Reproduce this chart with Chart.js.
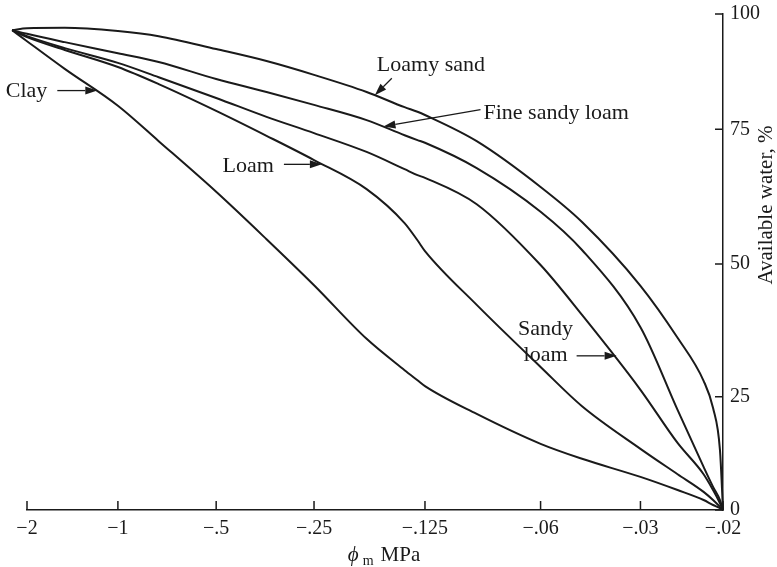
<!DOCTYPE html>
<html>
<head>
<meta charset="utf-8">
<script src="https://cdn.jsdelivr.net/npm/chart.js@4.4.0/dist/chart.umd.min.js"></script>
<style>
  body { margin: 0; background: #fff; }
</style>
</head>
<body>
<canvas id="waterChart" width="777" height="567"></canvas>
<script>
// Matric potential (MPa) where the curves were read
const potential = [-2.24, -2, -1.5, -1, -0.75, -0.5, -0.35, -0.25, -0.18, -0.142, -0.131, -0.125, -0.09, -0.06, -0.045, -0.03, -0.025, -0.022, -0.021, -0.0203, -0.02];

// Available water (%) for each soil
const loamySand = [96.5, 96.9, 97.0, 96.3, 95.2, 92.4, 89.8, 86.8, 83.1, 79.8, 78.8, 78.1, 72.8, 64.3, 57.8, 45.9, 36.1, 28.0, 22.5, 13.2, 0];
const fineSandyLoam = [96.5, 95.7, 93.9, 91.5, 89.6, 85.9, 83.1, 80.3, 77.0, 73.9, 73.0, 72.5, 67.8, 59.7, 52.6, 38.1, 22.1, 9.5, 5.1, 2.2, 0];
const sandyLoam = [96.5, 95.2, 92.6, 89.4, 86.3, 81.8, 77.7, 74.3, 70.8, 67.6, 66.5, 66.0, 61.1, 49.8, 40.4, 26.3, 14.8, 7.9, 4.4, 1.5, 0];
const loam = [96.5, 95.0, 92.2, 88.5, 84.8, 79.0, 73.8, 69.3, 63.9, 57.6, 54.4, 52.4, 42.3, 30.6, 22.9, 13.5, 7.9, 4.0, 2.2, 0.7, 0];
const clay = [96.5, 94.1, 88.1, 80.1, 72.8, 63.4, 54.6, 46.0, 35.9, 30.0, 28.1, 27.0, 21.2, 14.6, 11.3, 7.3, 4.4, 2.2, 1.1, 0.4, 0];

// Axis ticks
const xTickValues = [-2, -1, -0.5, -0.25, -0.125, -0.06, -0.03, -0.02];
const xTickLabels = ["\u22122", "\u22121", "\u2212.5", "\u2212.25", "\u2212.125", "\u2212.06", "\u2212.03", "\u2212.02"];
const yTickValues = [0, 25, 50, 75, 100];
const yTickLabels = ["0", "25", "50", "75", "100"];

// The printed axes are hand spaced, so each tick sits at its own
// fraction of the axis length; values between ticks are interpolated
const xTickSpacing = [0, 0.1306, 0.2718, 0.4124, 0.5718, 0.7379, 0.8814, 1];
const yTickSpacing = [0, 0.2284, 0.496, 0.7675, 1];

const ink = "#1a1a1a";
const serif = '"Liberation Serif", "DejaVu Serif", serif';

const knots = {
  x: { values: xTickValues, pos: xTickSpacing, unit: (v) => -Math.log(-v) },
  y: { values: yTickValues, pos: yTickSpacing, unit: (v) => v },
};

class KnotScale extends Chart.LinearScale {
  static id = "knot";
  static defaults = {};

  getPixelForValue(value) {
    if (value === null || value === undefined || isNaN(value)) return NaN;
    const k = knots[this.id];
    const u = k.unit(value);
    let i = 0;
    while (i < k.values.length - 2 && u > k.unit(k.values[i + 1])) i++;
    const u0 = k.unit(k.values[i]);
    const u1 = k.unit(k.values[i + 1]);
    const dec = k.pos[i] + ((u - u0) / (u1 - u0)) * (k.pos[i + 1] - k.pos[i]);
    return this.getPixelForDecimal(dec);
  }
}
Chart.register(KnotScale);

// Labels with arrows: tip in data units, tail and text offset in px from tip
const notes = [
  { lines: ["Clay"], tip: [-1.17, 83.4], tail: [-40, 0], text: [-50, 6], align: "right" },
  { lines: ["Loamy sand"], tip: [-0.171, 82.4], tail: [17, -17], text: [2, -24], align: "left" },
  { lines: ["Fine sandy loam"], tip: [-0.162, 75.6], tail: [97, -17], text: [100, -8], align: "left" },
  { lines: ["Loam"], tip: [-0.238, 68.5], tail: [-38, 0], text: [-48, 8], align: "right" },
  { lines: ["Sandy", "loam"], tip: [-0.0354, 32.7], tail: [-40, 0], text: [-71, -21], align: "center" },
];

function drawArrow(ctx, x0, y0, x1, y1) {
  const ang = Math.atan2(y1 - y0, x1 - x0);
  const len = 12, half = 4;
  const bx = x1 - len * Math.cos(ang), by = y1 - len * Math.sin(ang);
  ctx.beginPath();
  ctx.moveTo(x0, y0);
  ctx.lineTo(bx, by);
  ctx.stroke();
  ctx.beginPath();
  ctx.moveTo(x1, y1);
  ctx.lineTo(bx + half * Math.sin(ang), by - half * Math.cos(ang));
  ctx.lineTo(bx - half * Math.sin(ang), by + half * Math.cos(ang));
  ctx.closePath();
  ctx.fill();
}

const decor = {
  id: "decor",
  afterDraw(chart) {
    const { ctx, chartArea } = chart;
    const { x, y } = chart.scales;
    ctx.save();
    ctx.strokeStyle = ink;
    ctx.fillStyle = ink;
    ctx.lineWidth = 1.5;

    // inward tick marks
    ctx.beginPath();
    xTickValues.forEach((v) => {
      const px = x.getPixelForValue(v);
      ctx.moveTo(px, chartArea.bottom);
      ctx.lineTo(px, chartArea.bottom - 9);
    });
    yTickValues.forEach((v) => {
      const py = y.getPixelForValue(v);
      ctx.moveTo(chartArea.right, py);
      ctx.lineTo(chartArea.right - 8, py);
    });
    ctx.stroke();

    // curve labels
    ctx.lineWidth = 1.3;
    ctx.font = "22px " + serif;
    ctx.textBaseline = "alphabetic";
    notes.forEach((n) => {
      const tx = x.getPixelForValue(n.tip[0]);
      const ty = y.getPixelForValue(n.tip[1]);
      drawArrow(ctx, tx + n.tail[0], ty + n.tail[1], tx, ty);
      ctx.textAlign = n.align;
      n.lines.forEach((line, i) => {
        ctx.fillText(line, tx + n.text[0], ty + n.text[1] + i * 26);
      });
    });

    // x axis title: phi with subscript m
    const cx = (chartArea.left + chartArea.right) / 2 + 9;
    const base = chartArea.bottom + 51;
    ctx.textAlign = "left";
    ctx.font = "italic 21px " + serif;
    const phi = "\u03d5";
    const wPhi = ctx.measureText(phi).width;
    ctx.font = "14px " + serif;
    const wSub = ctx.measureText("m").width;
    ctx.font = "21px " + serif;
    const wUnit = ctx.measureText("MPa").width;
    let sx = cx - (wPhi + 4 + wSub + 7 + wUnit) / 2;
    ctx.font = "italic 21px " + serif;
    ctx.fillText(phi, sx, base);
    sx += wPhi + 4;
    ctx.font = "14px " + serif;
    ctx.fillText("m", sx, base + 4);
    sx += wSub + 7;
    ctx.font = "21px " + serif;
    ctx.fillText("MPa", sx, base);

    // y axis title, reading upward
    ctx.translate(chartArea.right + 43, chartArea.top + 191);
    ctx.rotate(-Math.PI / 2);
    ctx.textAlign = "center";
    ctx.textBaseline = "middle";
    ctx.fillText("Available water, %", 0, 0);
    ctx.restore();
  },
};

const curves = [
  ["Loamy sand", loamySand],
  ["Fine sandy loam", fineSandyLoam],
  ["Sandy loam", sandyLoam],
  ["Loam", loam],
  ["Clay", clay],
];

const ctx = document.getElementById("waterChart").getContext("2d");
new Chart(ctx, {
  type: "line",
  data: {
    datasets: curves.map(([label, values]) => ({
      label: label,
      data: potential.map((p, i) => ({ x: p, y: values[i] })),
      borderColor: ink,
      borderWidth: 2,
      pointRadius: 0,
      fill: false,
      clip: false,
      cubicInterpolationMode: "monotone",
    })),
  },
  options: {
    responsive: false,
    animation: false,
    events: [],
    layout: { padding: { left: 27, top: 14, right: 0, bottom: 0 } },
    plugins: {
      legend: { display: false },
      tooltip: { enabled: false },
    },
    scales: {
      x: {
        type: "knot",
        position: "bottom",
        min: -2,
        max: -0.02,
        afterBuildTicks: (s) => {
          s.ticks = xTickValues.map((v) => ({ value: v }));
        },
        afterFit: (s) => {
          s.height = 57;
          s.paddingLeft = 0;
          s.paddingRight = 0;
        },
        grid: { display: false, drawTicks: false },
        border: { display: true, color: ink, width: 1.5 },
        ticks: {
          autoSkip: false,
          maxRotation: 0,
          padding: 7,
          color: ink,
          font: { family: serif, size: 20 },
          callback: (v, i) => xTickLabels[i],
        },
      },
      y: {
        type: "knot",
        position: "right",
        min: 0,
        max: 100,
        afterBuildTicks: (s) => {
          s.ticks = yTickValues.map((v) => ({ value: v }));
        },
        afterFit: (s) => {
          s.width = 54;
          s.paddingTop = 0;
          s.paddingBottom = 0;
        },
        grid: { display: false, drawTicks: false },
        border: { display: true, color: ink, width: 1.5 },
        ticks: {
          padding: 7,
          color: ink,
          font: { family: serif, size: 20 },
          callback: (v, i) => yTickLabels[i],
        },
      },
    },
  },
  plugins: [decor],
});
</script>
</body>
</html>
